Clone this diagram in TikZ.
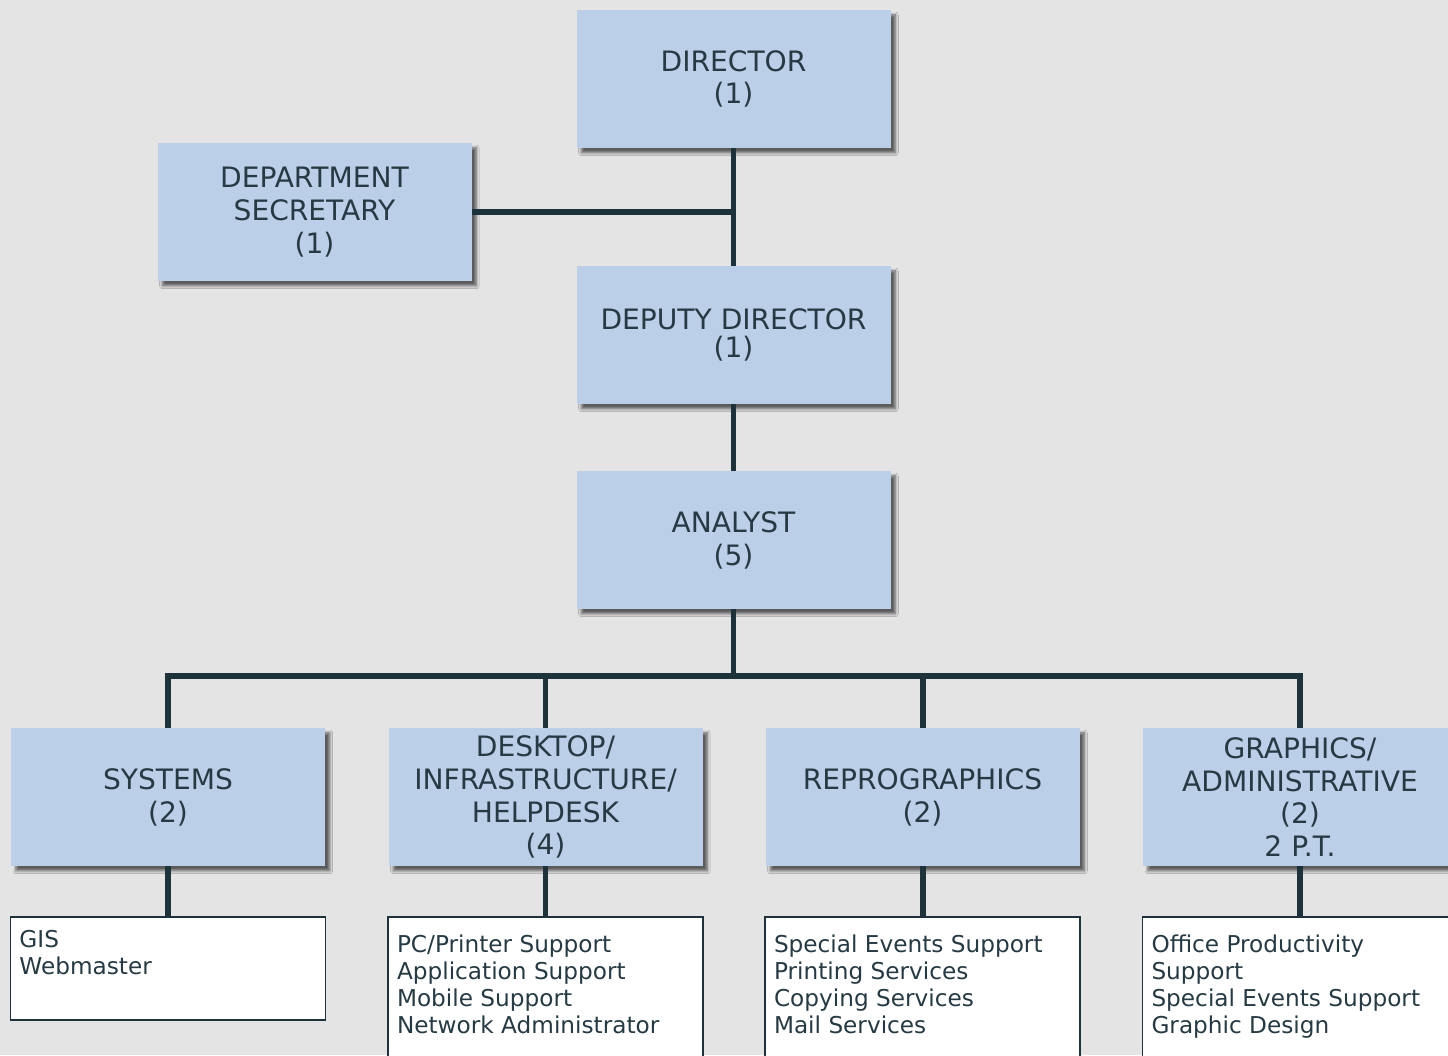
\documentclass[tikz,border=0pt]{standalone}
\usepackage{fontspec}
\setmainfont{DejaVu Sans}
\usetikzlibrary{shadows.blur}
\definecolor{bgcol}{HTML}{E4E4E4}
\definecolor{boxcol}{HTML}{BBCFE8}
\definecolor{inkcol}{HTML}{263A44}
\definecolor{linecol}{HTML}{1E323C}

\begin{document}
\begin{tikzpicture}[
  post/.style={fill=boxcol, text=inkcol, minimum width=6.28cm, minimum height=2.76cm,
    inner sep=0pt, align=center, font=\fontsize{16}{18.7}\selectfont,
    blur shadow={shadow xshift=2.8pt, shadow yshift=-2.8pt, shadow blur radius=1.6pt,
      shadow blur steps=6, shadow opacity=60}},
  duties/.style={draw=linecol, line width=0.9pt, fill=white, text=inkcol, anchor=north,
    inner xsep=0.18cm, inner ysep=0.36cm, font=\fontsize{13.2}{15.3}\selectfont},
  link/.style={draw=linecol, line width=3.4pt}]
  \clip (0,0) rectangle (28.96,21.1);
  \fill[bgcol] (0,0) rectangle (28.96,21.1);

  \node[post](Dir) at (14.67,19.52) {DIRECTOR\\(1)};
  \node[post](Sec) at (6.29,16.86) {DEPARTMENT\\SECRETARY\\(1)};
  \node[post](Dep) at (14.67,14.40) {DEPUTY DIRECTOR\\[-2.5pt](1)};
  \node[post](Ana) at (14.67,10.30) {ANALYST\\(5)};

  \node[post](Sys) at (3.36,5.16) {SYSTEMS\\(2)};
  \node[post](Desk) at (10.91,5.16) {DESKTOP/\\INFRASTRUCTURE/\\HELPDESK\\(4)};
  \node[post](Repro) at (18.45,5.16) {REPROGRAPHICS\\(2)};
  \node[post](Graph) at (26.00,5.16) {GRAPHICS/\\ADMINISTRATIVE\\(2)\\2 P.T.};

  \node[duties, inner ysep=0.27cm](SysD) at (3.36,2.78) {\parbox[t][1.52cm][t]{5.94cm}{\raggedright
      GIS\\
      Webmaster}};
  \node[duties](DeskD) at (10.91,2.78) {\parbox[t][2.18cm][t]{5.94cm}{\raggedright
      PC/Printer Support\\
      Application Support\\
      Mobile Support\\
      Network Administrator}};
  \node[duties](ReproD) at (18.45,2.78) {\parbox[t][2.18cm][t]{5.94cm}{\raggedright
      Special Events Support\\
      Printing Services\\
      Copying Services\\
      Mail Services}};
  \node[duties](GraphD) at (26.00,2.78) {\parbox[t][2.18cm][t]{5.94cm}{\raggedright
      Office Productivity\\
      Support\\
      Special Events Support\\
      Graphic Design}};

  \coordinate (bus) at (14.67,7.58);

  \draw[link] (Dir) -- (Dep);
  \draw[link] (Sec.east) -- (Sec.east -| Dir.south);
  \draw[link] (Dep) -- (Ana);
  \draw[link] (Ana) -- (bus);
  \draw[link] (Sys.north) |- (bus) -| (Graph.north);
  \draw[link] (Desk.north) -- (Desk.north |- bus);
  \draw[link] (Repro.north) -- (Repro.north |- bus);

  \draw[link] (Sys.south) -- (SysD.north);
  \draw[link] (Desk.south) -- (DeskD.north);
  \draw[link] (Repro.south) -- (ReproD.north);
  \draw[link] (Graph.south) -- (GraphD.north);
\end{tikzpicture}
\end{document}
